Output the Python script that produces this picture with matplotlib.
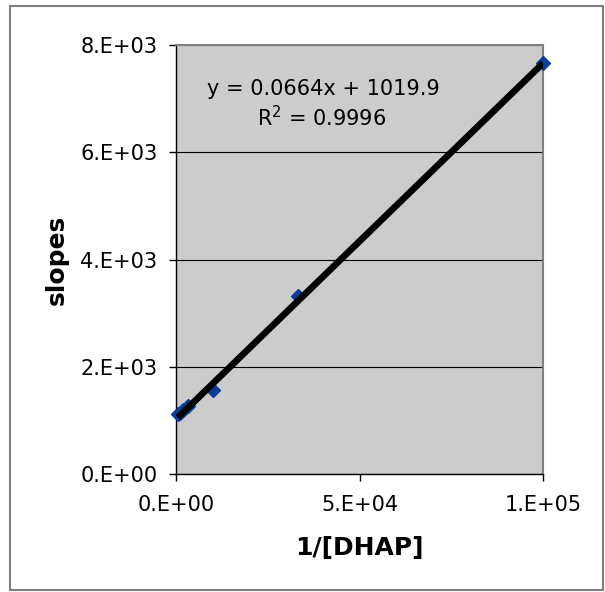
import numpy as np
import matplotlib.pyplot as plt
from matplotlib.patches import Rectangle
from matplotlib.ticker import FuncFormatter

# 1/[DHAP] vs slopes
inv_dhap = [500, 1000, 2000, 3333, 10000, 33333, 100000]
slopes = [1110, 1140, 1200, 1270, 1570, 3320, 7660]

# trendline as printed on the chart
slope_fit = 0.0664
intercept_fit = 1019.9
eq_text = 'y = 0.0664x + 1019.9'
r2_text = 'R$^2$ = 0.9996'

x_ticks = [0, 50000, 100000]
y_ticks = [0, 2000, 4000, 6000, 8000]

W, H = 605, 592
fig = plt.figure(figsize=(W / 100, H / 100), dpi=100)
fig.patch.set_facecolor('white')

# outer chart frame
fig.patches.append(Rectangle((10 / W, 1 - 590 / H), 593 / W, 584 / H,
                             transform=fig.transFigure, fill=False,
                             edgecolor='#808080', linewidth=1.5))

ax = fig.add_axes([176 / W, 1 - 474 / H, 367 / W, 429 / H])
ax.set_facecolor('#CCCCCC')

ax.plot(inv_dhap, slopes, linestyle='none', marker='D', markersize=7,
        color='#0B3C98', zorder=3, clip_on=False)

xs = np.array([min(inv_dhap), max(inv_dhap)])
ax.plot(xs, slope_fit * xs + intercept_fit, color='black', linewidth=4.8,
        solid_capstyle='butt', zorder=4)

ax.set_xlim(0, 100000)
ax.set_ylim(0, 8000)
ax.set_xticks(x_ticks)
ax.set_yticks(y_ticks)

def sci(v, pos):
    if v == 0:
        return '0.E+00'
    e = int(np.floor(np.log10(abs(v))))
    m = int(round(v / 10 ** e))
    return '%d.E+%02d' % (m, e)

ax.xaxis.set_major_formatter(FuncFormatter(sci))
ax.yaxis.set_major_formatter(FuncFormatter(sci))
ax.tick_params(axis='both', direction='out', length=5, width=1,
               labelsize=15, color='black')
ax.tick_params(axis='y', pad=8.5)
ax.tick_params(axis='x', pad=10)

ax.yaxis.grid(True, color='black', linewidth=0.8)
ax.set_axisbelow(True)

for s in ['left', 'bottom']:
    ax.spines[s].set_color('black')
    ax.spines[s].set_linewidth(1)
for s in ['top', 'right']:
    ax.spines[s].set_color('#808080')
    ax.spines[s].set_linewidth(1.5)

fig.text(359.5 / W, 1 - 548 / H, '1/[DHAP]', ha='center', va='center',
         fontsize=18, fontweight='bold')
fig.text(57 / W, 1 - 260 / H, 'slopes', ha='center', va='center',
         rotation=90, fontsize=18, fontweight='bold')

fig.text(323 / W, 1 - 89 / H, eq_text, ha='center', va='center', fontsize=15)
fig.text(322 / W, 1 - 118 / H, r2_text, ha='center', va='center', fontsize=15)

fig.savefig('out.png', dpi=100)
